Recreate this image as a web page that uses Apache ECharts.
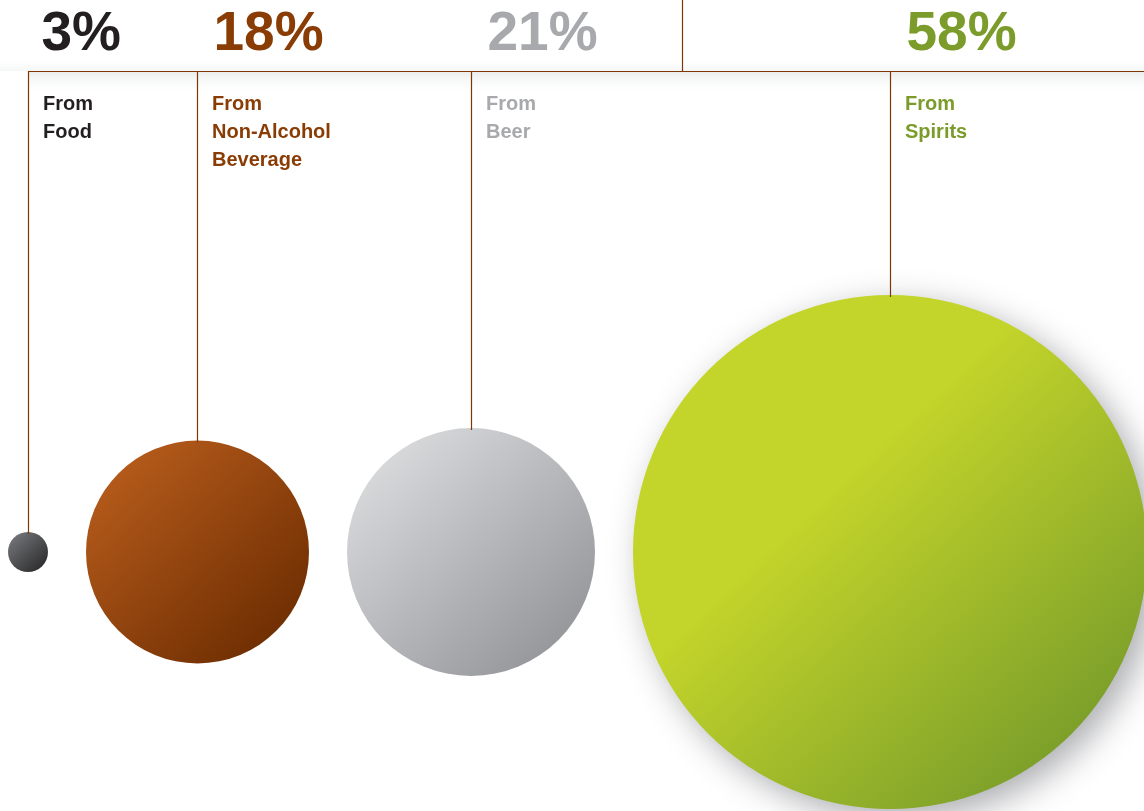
<!DOCTYPE html>
<html><head><meta charset="utf-8">
<script src="https://cdn.jsdelivr.net/npm/echarts@6/dist/echarts.min.js"></script>
<style>html,body{margin:0;padding:0;background:#fff}#main{width:1144px;height:811px}</style>
</head><body><div id="main"></div>
<script>
// ---- data ----
const categories = ['Food', 'Non-Alcohol\nBeverage', 'Beer', 'Spirits'];
const shares = [3, 18, 21, 58];
const labelPrefix = 'From';

// ---- styles (sizes / colours of the marks) ----
const diameters = [40, 223, 248, 514];
const gradients = [
  ['#6f7073', '#2a2a2c'],
  ['#b2591a', '#6a2b00'],
  ['#d6d7d9', '#909296'],
  ['#c3d42a', '#72982a']
];
const textColors = ['#231f20', '#8a3c05', '#a7a9ac', '#7b9c2b'];
const shadowOn = [false, false, false, true];
const lineColor = '#7b3806';
const startX = 8, gap = 38, centerY = 552, ruleY = 71;

function layoutX(idx) {
  let x = startX;
  for (let i = 0; i < idx; i++) x += diameters[i] + gap;
  return x + diameters[idx] / 2;
}

const chart = echarts.init(document.getElementById('main'));
chart.setOption({
  backgroundColor: '#ffffff',
  animation: false,
  graphic: [
    { type: 'rect', z: 0, shape: { x: 28, y: ruleY, width: 1144, height: 24 },
      style: { fill: new echarts.graphic.LinearGradient(0, 0, 0, 1, [
        { offset: 0, color: 'rgba(225,228,228,0.7)' }, { offset: 1, color: 'rgba(255,255,255,0)' }]) } },
    { type: 'rect', z: 0, shape: { x: 0, y: ruleY - 14, width: 1144, height: 14 },
      style: { fill: new echarts.graphic.LinearGradient(0, 0, 0, 1, [
        { offset: 0, color: 'rgba(255,255,255,0)' }, { offset: 1, color: 'rgba(235,237,237,0.5)' }]) } },
    { type: 'line', z: 100, shape: { x1: 28, y1: ruleY + 0.5, x2: 1144, y2: ruleY + 0.5 },
      style: { stroke: lineColor, lineWidth: 1.2 } },
    { type: 'line', z: 100, shape: { x1: 682.5, y1: 0, x2: 682.5, y2: ruleY },
      style: { stroke: lineColor, lineWidth: 1.2 } }
  ],
  series: [{
    type: 'custom',
    coordinateSystem: 'none',
    data: shares.map(v => [v]),
    renderItem: function (params, api) {
      const i = params.dataIndex;
      const v = api.value(0);
      const cx = layoutX(i);
      const r = diameters[i] / 2;
      const lx = Math.floor(cx) + 0.5;
      const names = categories[i].split('\n');
      const children = [];
      children.push({
        type: 'circle', z2: 1,
        shape: { cx: cx, cy: centerY, r: r },
        style: {
          fill: new echarts.graphic.LinearGradient(0.15, 0.15, 0.9, 0.95, [
            { offset: 0, color: gradients[i][0] },
            { offset: i === 3 ? 0.3 : 0, color: gradients[i][0] },
            { offset: 1, color: gradients[i][1] }
          ]),
          shadowBlur: shadowOn[i] ? 34 : 0,
          shadowOffsetX: shadowOn[i] ? 10 : 0,
          shadowOffsetY: shadowOn[i] ? 10 : 0,
          shadowColor: 'rgba(70,72,80,0.45)'
        }
      });
      children.push({
        type: 'line', z2: 5,
        shape: { x1: lx, y1: ruleY, x2: lx, y2: centerY - r + 2 },
        style: { stroke: lineColor, lineWidth: 1.2 }
      });
      children.push({
        type: 'text', z2: 6,
        style: { text: v + '%', x: lx + (i === 0 ? 13 : 16), y: 35, verticalAlign: 'middle', align: 'left',
          fill: textColors[i], font: 'bold 55px "Liberation Sans", Arial, sans-serif' }
      });
      const lines = [labelPrefix].concat(names);
      lines.forEach(function (t, k) {
        children.push({
          type: 'text', z2: 6,
          style: { text: t, x: lx + 14.5, y: 104 + k * 28, verticalAlign: 'middle', align: 'left',
            fill: textColors[i], font: 'bold 20px "Liberation Sans", Arial, sans-serif' }
        });
      });
      return { type: 'group', children: children };
    }
  }]
});
</script></body></html>
